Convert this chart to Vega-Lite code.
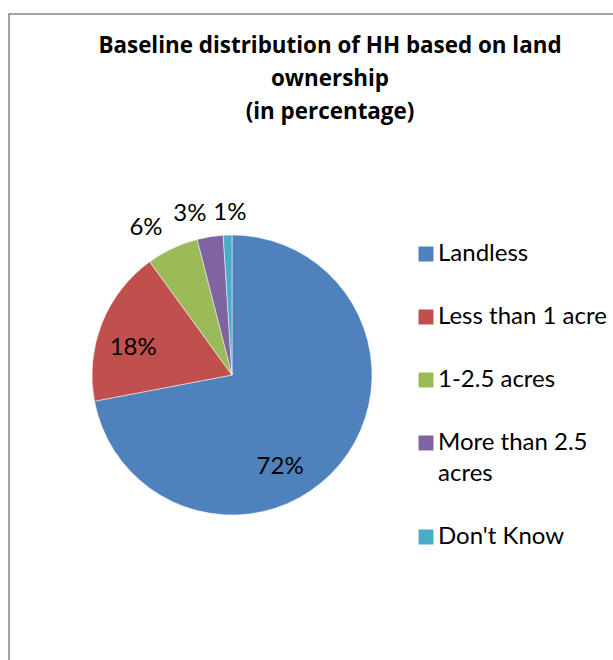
{
  "$schema": "https://vega.github.io/schema/vega-lite/v6.json",
  "width": 642,
  "height": 700,
  "autosize": {"type": "none"},
  "padding": {"left": 9, "top": 14, "right": 0, "bottom": 0},
  "background": "white",
  "view": {"stroke": "#868686", "strokeWidth": 1.5, "fill": "white"},
  "config": {
    "font": "Lato",
    "style": {"guide-label": {"lineHeight": 31}}
  },
  "title": {
    "text": ["Baseline distribution of HH based on land", "ownership", "(in percentage)"],
    "anchor": "middle",
    "frame": "group",
    "font": "Open Sans",
    "fontSize": 22.4,
    "fontWeight": "bold",
    "lineHeight": 33,
    "baseline": "top",
    "color": "black",
    "dy": 113
  },
  "data": {
    "values": [
      {"category": "Landless", "percent": 72, "label": "72%", "rank": 1},
      {"category": "Less than 1 acre", "percent": 18, "label": "18%", "rank": 2},
      {"category": "1-2.5 acres", "percent": 6, "label": "6%", "rank": 3},
      {"category": "More than 2.5 acres", "percent": 3, "label": "3%", "rank": 4},
      {"category": "Don't Know", "percent": 1, "label": "1%", "rank": 5}
    ]
  },
  "encoding": {
    "theta": {"field": "percent", "type": "quantitative", "stack": true},
    "order": {"field": "rank", "type": "quantitative"}
  },
  "layer": [
    {
      "mark": {"type": "arc", "radius": 140, "xOffset": -98, "yOffset": 11, "stroke": "white", "strokeWidth": 0.5},
      "encoding": {
        "color": {
          "field": "category",
          "type": "nominal",
          "sort": null,
          "scale": {
            "domain": ["Landless", "Less than 1 acre", "1-2.5 acres", "More than 2.5 acres", "Don't Know"],
            "range": ["#4F81BD", "#C0504D", "#9BBB59", "#8064A2", "#4BACC6"]
          },
          "legend": {
            "title": null,
            "orient": "none",
            "legendX": 405,
            "legendY": 228,
            "symbolType": "square",
            "symbolSize": 225,
            "symbolStrokeWidth": 0,
            "labelFontSize": 24,
            "labelColor": "black",
            "labelFont": "Lato",
            "labelOffset": 0,
            "labelLimit": 300,
            "rowPadding": 39,
            "labelExpr": "datum.label == 'More than 2.5 acres' ? ['More than 2.5', 'acres'] : datum.label"
          }
        }
      }
    },
    {
      "mark": {"type": "text", "radius": 104, "xOffset": -98, "yOffset": 11, "dx": -32, "dy": 26, "fontSize": 24, "color": "black"},
      "encoding": {"text": {"condition": {"test": "datum.percent > 50", "field": "label"}, "value": ""}}
    },
    {
      "mark": {"type": "text", "radius": 103, "xOffset": -98, "yOffset": 11, "dx": -3, "dy": 11, "fontSize": 24, "color": "black"},
      "encoding": {"text": {"condition": {"test": "datum.percent >= 10 && datum.percent <= 50", "field": "label"}, "value": ""}}
    },
    {
      "mark": {"type": "text", "radius": 163, "xOffset": -98, "yOffset": 11, "align": "right", "fontSize": 24, "color": "black"},
      "encoding": {"text": {"condition": {"test": "datum.percent >= 2 && datum.percent < 10", "field": "label"}, "value": ""}}
    },
    {
      "mark": {"type": "text", "radius": 162, "xOffset": -98, "yOffset": 11, "dx": 3, "align": "center", "fontSize": 24, "color": "black"},
      "encoding": {"text": {"condition": {"test": "datum.percent < 2", "field": "label"}, "value": ""}}
    }
  ]
}
